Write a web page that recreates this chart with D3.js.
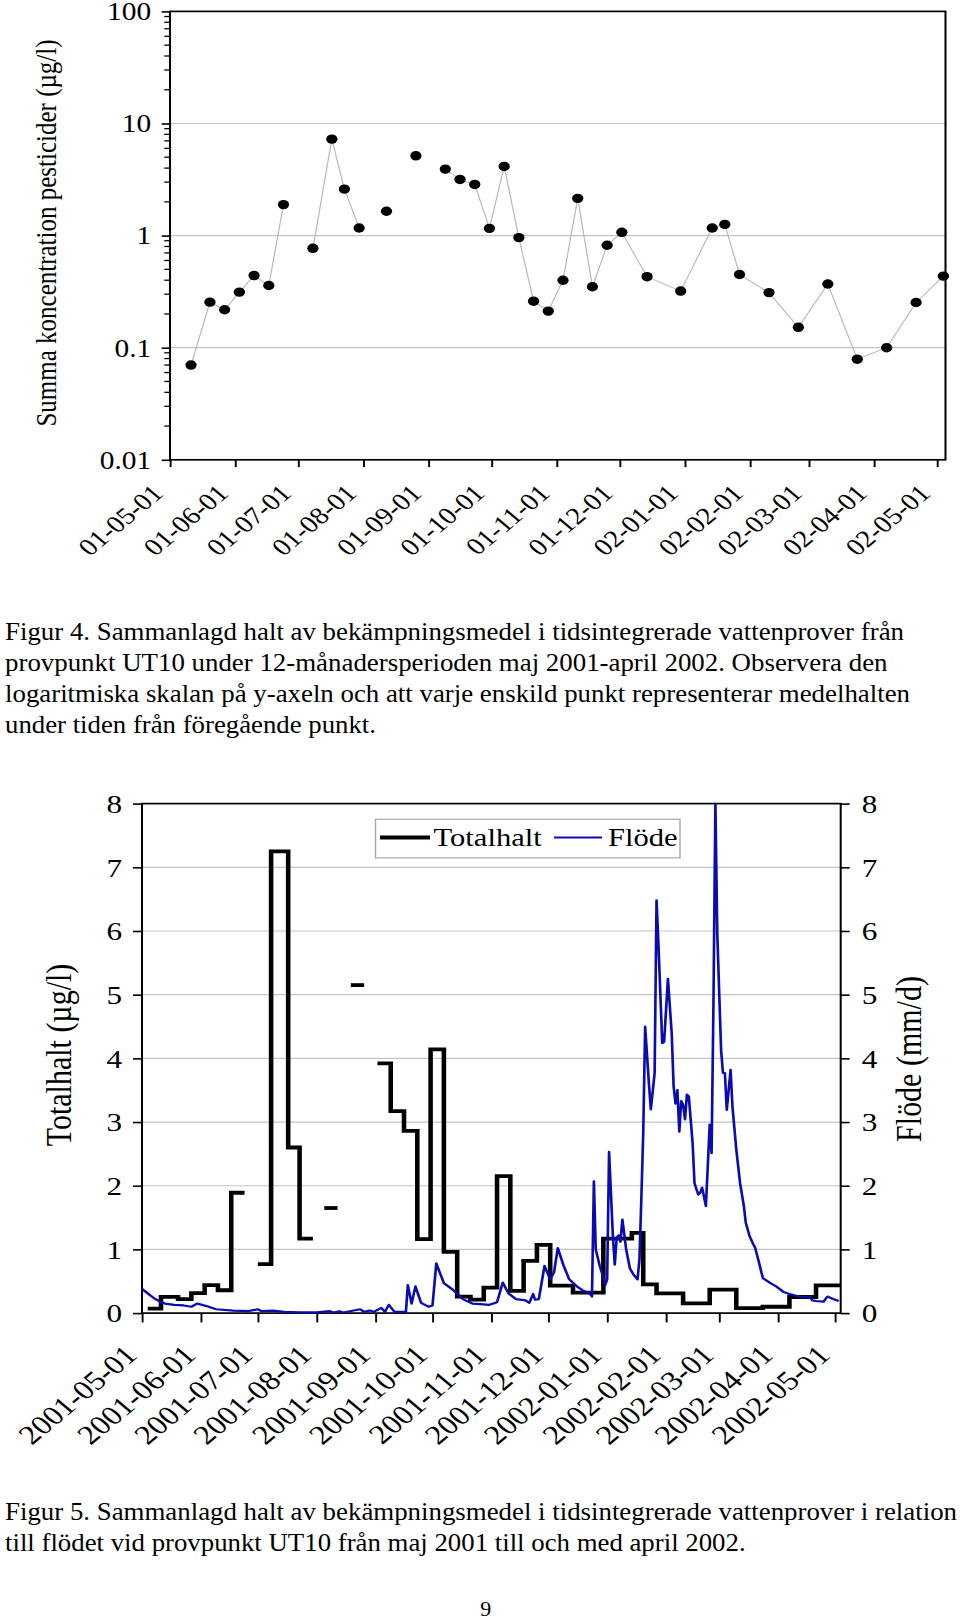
<!DOCTYPE html>
<html><head><meta charset="utf-8">
<script src="https://cdn.jsdelivr.net/npm/d3@7"></script>
<style>
body{margin:0;background:#fff}
svg{display:block}
text{font-family:"Liberation Serif","Times New Roman",serif;fill:#000}
</style></head><body><div id="c"></div>
<script>
// ---------- DATA ----------
const sampleDates = ["2001-05-11","2001-05-20","2001-05-27","2001-06-03","2001-06-10","2001-06-17","2001-06-24",
  "2001-07-08","2001-07-17","2001-07-23","2001-07-30","2001-08-12","2001-08-26","2001-09-09","2001-09-16",
  "2001-09-23","2001-09-30","2001-10-07","2001-10-14","2001-10-21","2001-10-28","2001-11-04","2001-11-11",
  "2001-11-18","2001-11-25","2001-12-02","2001-12-14","2001-12-30","2002-01-14","2002-01-20","2002-01-27",
  "2002-02-10","2002-02-24","2002-03-10","2002-03-24","2002-04-07","2002-04-21","2002-05-04"];
const sampleValues = [0.07,0.255,0.218,0.313,0.44,0.359,1.89,
  0.77,7.25,2.6,1.17,1.65,5.15,3.92,3.17,
  2.86,1.16,4.14,0.96,0.26,0.212,0.4,2.15,
  0.35,0.82,1.07,0.43,0.32,1.17,1.26,0.45,
  0.31,0.152,0.37,0.079,0.1,0.253,0.435];
// 1 = sample period follows directly on the previous sample, 0 = gap before
const joinedToPrevious = [0,1,1,1,1,1,1, 0,1,1,1, 0, 0, 0,1, 1,1,1,1,1,1,1,1, 1,1,1,1,1,1,1,1, 1,1,1,1,1,1,1];
const standalonePeriodDays = 7;

const flowStart = "2001-05-01";
// [day after flowStart, flow mm/d]
const flowSeries = [[0,0.38],[3,0.31],[6,0.24],[9,0.19],[12,0.15],[17,0.13],[22,0.12],[26,0.10],[29,0.15],[34,0.11],
  [39,0.06],[48,0.04],[56,0.03],[61,0.06],[63,0.03],[69,0.04],[75,0.02],[83,0.01],[92,0.01],[99,0.03],
  [101,0.01],[104,0.03],[106,0.01],[115,0.06],[117,0.02],[120,0.04],[122,0.02],[126,0.08],[128,0.02],[130,0.13],
  [133,0.02],[139,0.02],[140,0.44],[142,0.15],[144,0.42],[147,0.16],[151,0.10],[153,0.12],[155,0.78],[159,0.47],
  [164,0.36],[169,0.22],[174,0.15],[178,0.14],[183,0.13],[187,0.17],[190,0.48],[193,0.31],[197,0.22],[202,0.20],
  [204,0.16],[206,0.30],[207,0.21],[209,0.22],[212,0.74],[215,0.53],[217,0.64],[219,1.02],[222,0.75],[225,0.53],
  [229,0.42],[232,0.36],[236,0.30],[237,0.26],[238,2.07],[239,1.00],[241,0.75],[243,0.56],[244,0.44],[245,0.53],
  [246,2.53],[248,1.22],[249,0.76],[250,1.18],[251,1.22],[252,1.12],[253,1.47],[255,1.00],[257,0.70],[259,0.60],
  [261,0.53],[262,0.84],[263,1.80],[264,2.83],[265,4.50],[267,3.60],[268,3.20],[270,3.77],[271,6.48],[272,5.80],
  [274,4.24],[275,4.26],[277,5.25],[279,4.39],[280,3.56],[281,3.29],[282,3.50],[283,2.85],[284,3.33],[285,3.27],
  [286,3.04],[287,3.43],[288,3.40],[290,2.67],[291,2.04],[293,1.86],[294,1.89],[295,1.97],[297,1.68],[298,2.31],
  [299,2.96],[300,2.51],[301,4.91],[302,8.00],[303,5.96],[305,4.13],[306,3.77],[307,3.77],[308,3.19],[310,3.82],
  [311,3.24],[313,2.57],[315,2.04],[317,1.68],[318,1.42],[320,1.21],[322,1.08],[323,1.02],[325,0.79],[327,0.55],
  [331,0.47],[334,0.42],[338,0.33],[341,0.30],[346,0.26],[352,0.25],[353,0.20],[355,0.19],[359,0.18],[361,0.26],
  [364,0.22],[367,0.19]];

const monthTicks = ["2001-05-01","2001-06-01","2001-07-01","2001-08-01","2001-09-01","2001-10-01","2001-11-01",
  "2001-12-01","2002-01-01","2002-02-01","2002-03-01","2002-04-01","2002-05-01"];
const logTicks = [0.01,0.1,1,10,100];
const logGrid = [0.1,1,10];
const linTicks = [0,1,2,3,4,5,6,7,8];
const linGrid = [1,2,3,4,5,6,7];

const caption4 = ["Figur 4. Sammanlagd halt av bekämpningsmedel i tidsintegrerade vattenprover från",
  "provpunkt UT10 under 12-månadersperioden maj 2001-april 2002. Observera den",
  "logaritmiska skalan på y-axeln och att varje enskild punkt representerar medelhalten",
  "under tiden från föregående punkt."];
const caption5 = ["Figur 5. Sammanlagd halt av bekämpningsmedel i tidsintegrerade vattenprover i relation",
  "till flödet vid provpunkt UT10 från maj 2001 till och med april 2002."];

// ---------- SETUP ----------
const W = 960, H = 1623, SX = 1.2;   // chart images are stretched horizontally
const X = px => px / SX;
const parse = d3.timeParse("%Y-%m-%d");
const svg = d3.select("#c").append("svg").attr("width", W).attr("height", H);
const root = svg.append("g").attr("transform", `scale(${SX},1)`);

const samples = sampleDates.map((d, i) => ({t: parse(d), v: sampleValues[i], j: joinedToPrevious[i]}));
const runs = [];
samples.forEach(s => { if (!s.j || !runs.length) runs.push([s]); else runs[runs.length - 1].push(s); });

// ---------- TOP CHART ----------
const T = {l: 170, r: 945.5, t: 11.4, b: 459.8};
const x1 = d3.scaleTime().domain([parse("2001-05-01"), parse("2002-05-05")]).range([X(T.l), X(T.r)]);
const y1 = d3.scaleLog().domain([0.01, 100]).range([T.b, T.t]);
const g1 = root.append("g");

g1.selectAll(".grid").data(logGrid).join("line")
  .attr("x1", X(T.l)).attr("x2", X(T.r)).attr("y1", d => y1(d)).attr("y2", d => y1(d))
  .attr("stroke", "#c4c4c4").attr("stroke-width", 1.2);

// minor ticks
const minor = [];
[0.01, 0.1, 1, 10].forEach(dec => { for (let k = 2; k <= 9; k++) minor.push(dec * k); });
g1.selectAll(".minor").data(minor).join("line")
  .attr("x1", X(T.l - 5.7)).attr("x2", X(T.l)).attr("y1", d => y1(d)).attr("y2", d => y1(d))
  .attr("stroke", "#000").attr("stroke-width", 1.3);

const ay1 = g1.append("g").attr("transform", `translate(${X(T.l)},0)`)
  .call(d3.axisLeft(y1).tickValues(logTicks).tickSize(X(8.3)).tickSizeOuter(0).tickPadding(X(10.5))
    .tickFormat(d => String(d)));
ay1.select(".domain").remove();
ay1.selectAll(".tick line").attr("stroke-width", 1.6);
ay1.selectAll(".tick text").attr("font-size", 24.5).attr("font-family", null).attr("dy", "0.34em");

const ax1 = g1.append("g").attr("transform", `translate(0,${T.b})`)
  .call(d3.axisBottom(x1).tickValues(monthTicks.map(parse)).tickSize(7.3).tickSizeOuter(0)
    .tickFormat(d3.timeFormat("%y-%m-%d")));
ax1.select(".domain").remove();
ax1.selectAll(".tick line").attr("stroke-width", 1.6);
ax1.selectAll(".tick text").attr("font-size", 24).attr("font-family", null)
  .attr("text-anchor", "end").attr("x", 0).attr("y", 0).attr("dy", "0.35em")
  .attr("transform", `translate(${X(-13)},29) rotate(-45)`);

// frame
g1.append("rect").attr("x", X(T.l)).attr("y", T.t).attr("width", X(T.r) - X(T.l)).attr("height", T.b - T.t)
  .attr("fill", "none").attr("stroke", "#000").attr("stroke-width", 1.7);

const line1 = d3.line().x(d => x1(d.t)).y(d => y1(d.v));
g1.selectAll(".run").data(runs).join("path").attr("d", line1)
  .attr("fill", "none").attr("stroke", "#b8b8b8").attr("stroke-width", 1);
g1.selectAll(".dot").data(samples).join("circle")
  .attr("cx", d => x1(d.t)).attr("cy", d => y1(d.v)).attr("r", 4.7).attr("fill", "#000");

g1.append("text").attr("transform", `translate(${X(56)},233) rotate(-90)`).attr("text-anchor", "middle")
  .attr("font-size", 25).text("Summa koncentration pesticider (µg/l)");

// ---------- CAPTIONS (document text, not stretched) ----------
function caption(lines, y0, step, widths) {
  lines.forEach((s, i) => {
    svg.append("text").attr("x", 5).attr("y", y0 + i * step).attr("font-size", 25.5)
      .attr("textLength", widths[i] - 5).attr("lengthAdjust", "spacingAndGlyphs").text(s);
  });
}
caption(caption4, 640, 31, [904, 887.5, 910, 376]);
caption(caption5, 1520, 31, [957, 745.6]);
svg.append("text").attr("x", 485.7).attr("y", 1616).attr("text-anchor", "middle").attr("font-size", 22).text("9");

// ---------- BOTTOM CHART ----------
const B = {l: 142, r: 840.7, t: 803.6, b: 1313.1};
const x2 = d3.scaleTime().domain([parse("2001-05-01"), parse("2002-05-04")]).range([X(B.l), X(B.r)]);
const y2 = d3.scaleLinear().domain([0, 8]).range([B.b, B.t]);
const y2r = d3.scaleLinear().domain([0, 8]).range([B.b, B.t]);
const g2 = root.append("g");

g2.selectAll(".grid").data(linGrid).join("line")
  .attr("x1", X(B.l)).attr("x2", X(B.r)).attr("y1", d => y2(d)).attr("y2", d => y2(d))
  .attr("stroke", "#c4c4c4").attr("stroke-width", 1.2);

const al = g2.append("g").attr("transform", `translate(${X(B.l)},0)`)
  .call(d3.axisLeft(y2).tickValues(linTicks).tickSize(X(9)).tickSizeOuter(0).tickPadding(X(11)));
al.select(".domain").remove();
al.selectAll(".tick line").attr("stroke-width", 1.6);
al.selectAll(".tick text").attr("font-size", 26).attr("font-family", null).attr("dy", "0.34em");

const ar = g2.append("g").attr("transform", `translate(${X(B.r)},0)`)
  .call(d3.axisRight(y2r).tickValues(linTicks).tickSize(X(9)).tickSizeOuter(0).tickPadding(X(12)));
ar.select(".domain").remove();
ar.selectAll(".tick line").attr("stroke-width", 1.6);
ar.selectAll(".tick text").attr("font-size", 26).attr("font-family", null).attr("dy", "0.34em");

const ab = g2.append("g").attr("transform", `translate(0,${B.b})`)
  .call(d3.axisBottom(x2).tickValues(monthTicks.map(parse)).tickSize(9.3).tickSizeOuter(0)
    .tickFormat(d3.timeFormat("%Y-%m-%d")));
ab.select(".domain").remove();
ab.selectAll(".tick line").attr("stroke-width", 1.6);
ab.selectAll(".tick text").attr("font-size", 27).attr("font-family", null)
  .attr("text-anchor", "end").attr("x", 0).attr("y", 0).attr("dy", "0.35em")
  .attr("transform", `translate(${X(-12)},37) rotate(-45)`);

g2.append("rect").attr("x", X(B.l)).attr("y", B.t).attr("width", X(B.r) - X(B.l)).attr("height", B.b - B.t)
  .attr("fill", "none").attr("stroke", "#000").attr("stroke-width", 1.7);

// Totalhalt step line (each value covers the period since the previous sample)
const stepLine = d3.line().x(d => x2(d.t)).y(d => y2(d.v)).curve(d3.curveStepBefore);
const stepRuns = runs.map(r => [{t: d3.timeDay.offset(r[0].t, -standalonePeriodDays), v: r[0].v}, ...r]);
const clipId = "clip2";
svg.append("defs").append("clipPath").attr("id", clipId).append("rect")
  .attr("x", X(B.l)).attr("y", B.t - 1).attr("width", X(B.r) - X(B.l)).attr("height", B.b - B.t + 2);
g2.append("g").selectAll("path").data(stepRuns).join("path").attr("d", stepLine)
  .attr("fill", "none").attr("stroke", "#000").attr("stroke-width", 3.8)
  .attr("stroke-linejoin", "miter").attr("stroke-linecap", "butt");

// Flöde
const f0 = parse(flowStart);
const flow = flowSeries.map(([d, v]) => ({t: d3.timeDay.offset(f0, d), v}));
g2.append("path").datum(flow).attr("clip-path", `url(#${clipId})`)
  .attr("d", d3.line().x(d => x2(d.t)).y(d => y2r(d.v)))
  .attr("fill", "none").attr("stroke", "#0a0cb2").attr("stroke-width", 2.2).attr("stroke-linejoin", "round");

// legend
const lg = g2.append("g");
lg.append("rect").attr("x", X(375.5)).attr("y", 819.3).attr("width", X(680) - X(375.5)).attr("height", 38.6)
  .attr("fill", "#fff").attr("stroke", "#a8a8a8").attr("stroke-width", 1.2);
lg.append("line").attr("x1", X(380)).attr("x2", X(430)).attr("y1", 837.5).attr("y2", 837.5)
  .attr("stroke", "#000").attr("stroke-width", 3.8);
lg.append("text").attr("x", X(433.5)).attr("y", 846.5).attr("font-size", 25.5).text("Totalhalt");
lg.append("line").attr("x1", X(554)).attr("x2", X(602)).attr("y1", 837.5).attr("y2", 837.5)
  .attr("stroke", "#0a0cb2").attr("stroke-width", 2.2);
lg.append("text").attr("x", X(608)).attr("y", 846.5).attr("font-size", 25.5).text("Flöde");

// axis titles
g2.append("text").attr("transform", `translate(${X(71)},1055) rotate(-90)`).attr("text-anchor", "middle")
  .attr("font-size", 30).text("Totalhalt (µg/l)");
g2.append("text").attr("transform", `translate(${X(921)},1059) rotate(-90)`).attr("text-anchor", "middle")
  .attr("font-size", 30).text("Flöde (mm/d)");
</script></body></html>
